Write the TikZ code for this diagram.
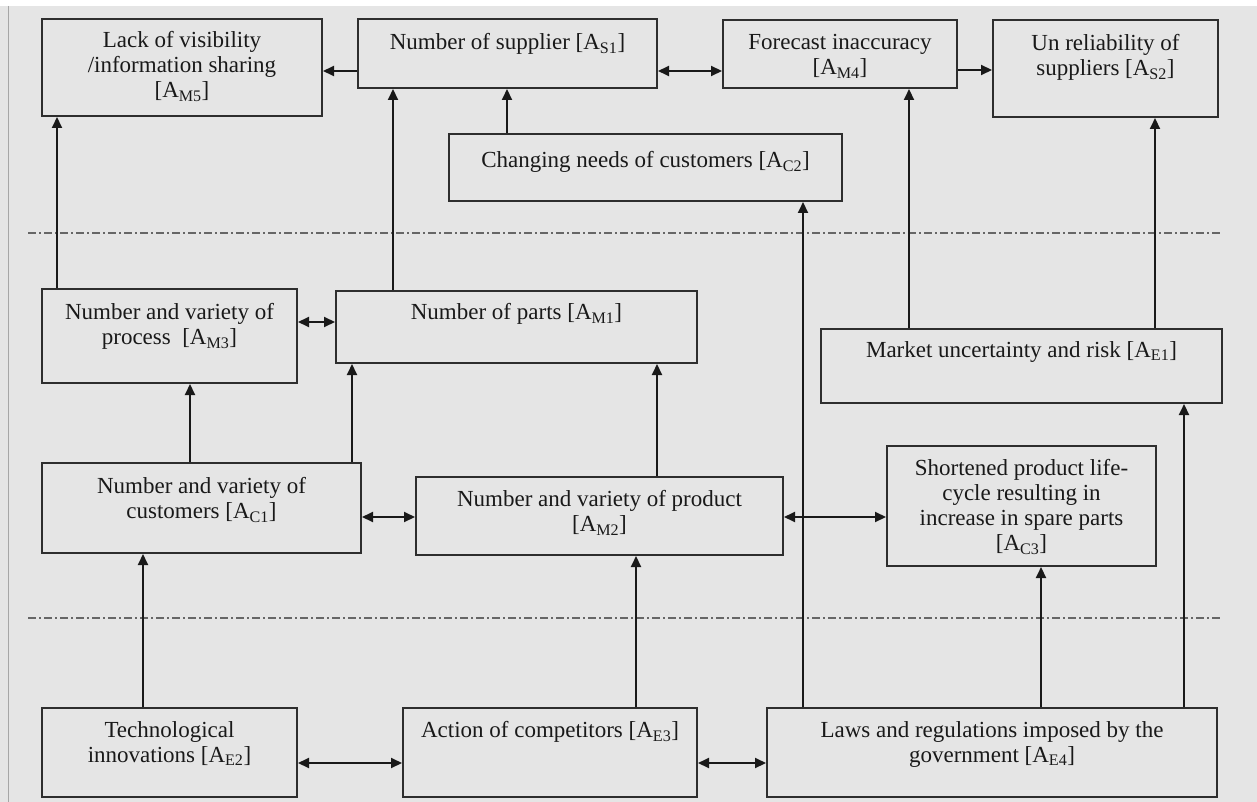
\documentclass[tikz,border=0pt]{standalone}
\usepackage{fontspec}
\setmainfont{Liberation Serif}
\usetikzlibrary{arrows.meta}
\definecolor{bg}{HTML}{E5E5E5}
\definecolor{edgec}{HTML}{2E2E2E}
\newcommand{\boxfont}{\fontsize{23}{25}\selectfont}
\newcommand{\ssub}[1]{\textsubscript{#1}}
\begin{document}
\begin{tikzpicture}[x=1pt,y=-1pt,
  box/.style={draw=edgec, line width=2pt, rectangle, inner sep=0pt},
  txt/.style={anchor=north, align=center, inner sep=0pt, font=\boxfont, text=black!90},
  arr/.style={draw=black!90, line width=2pt, -{Triangle[length=11pt,width=10pt]}},
  darr/.style={draw=black!90, line width=2pt, {Triangle[length=11pt,width=10pt]}-{Triangle[length=11pt,width=10pt]}},
  sep/.style={draw=black!60, line width=1.5pt, dash pattern=on 8pt off 3pt on 2pt off 3pt}]
\useasboundingbox (0,0) rectangle (1257,802);
\fill[bg] (0,0) rectangle (1257,802);
\fill[white] (0,0) rectangle (1257,6);
\draw[black!35, line width=1pt] (8.5,6) -- (8.5,802);

% separators
\draw[sep] (28,233) -- (1222,233);
\draw[sep] (28,618) -- (1222,618);

% boxes
\node[box, minimum width=280pt, minimum height=97pt] (am5) at (182,67.5) {};
\node[box, minimum width=299pt, minimum height=69pt] (as1) at (507.5,53.5) {};
\node[box, minimum width=234pt, minimum height=68pt] (am4) at (840,54) {};
\node[box, minimum width=225pt, minimum height=97pt] (as2) at (1105.5,68.5) {};
\node[box, minimum width=393pt, minimum height=67pt] (ac2) at (645.5,167.5) {};
\node[box, minimum width=255pt, minimum height=94pt] (am3) at (169.5,336) {};
\node[box, minimum width=361pt, minimum height=72pt] (am1) at (516.5,327) {};
\node[box, minimum width=401pt, minimum height=74pt] (ae1) at (1021.5,366) {};
\node[box, minimum width=319pt, minimum height=90pt] (ac1) at (201.5,508) {};
\node[box, minimum width=367pt, minimum height=78pt] (am2) at (599.5,516) {};
\node[box, minimum width=269pt, minimum height=120pt] (ac3) at (1021.5,506) {};
\node[box, minimum width=255pt, minimum height=89pt] (ae2) at (169.5,752.5) {};
\node[box, minimum width=294pt, minimum height=89pt] (ae3) at (550,752.5) {};
\node[box, minimum width=450pt, minimum height=89pt] (ae4) at (992,752.5) {};

% texts
\node[txt] (t-am5) at (182,31) {Lack of visibility\\/information sharing\\{}[A\ssub{M5}]};
\node[txt] (t-as1) at (507.5,33) {Number of supplier [A\ssub{S1}]};
\node[txt] (t-am4) at (840,34) {Forecast inaccuracy\\{}[A\ssub{M4}]};
\node[txt] (t-as2) at (1105.5,34) {Un reliability of\\suppliers [A\ssub{S2}]};
\node[txt] (t-ac2) at (645.5,151) {Changing needs of customers [A\ssub{C2}]};
\node[txt] (t-am3) at (169.5,303) {Number and variety of\\process~ [A\ssub{M3}]};
\node[txt] (t-am1) at (516.5,303) {Number of parts [A\ssub{M1}]};
\node[txt] (t-ae1) at (1021.5,341) {Market uncertainty and risk [A\ssub{E1}]};
\node[txt] (t-ac1) at (201.5,477) {Number and variety of\\customers [A\ssub{C1}]};
\node[txt] (t-am2) at (599.5,490) {Number and variety of product\\{}[A\ssub{M2}]};
\node[txt] (t-ac3) at (1021.5,459) {Shortened product life-\\cycle resulting in\\increase in spare parts\\{}[A\ssub{C3}]};
\node[txt] (t-ae2) at (169.5,721) {Technological\\innovations [A\ssub{E2}]};
\node[txt] (t-ae3) at (550,721) {Action of competitors [A\ssub{E3}]};
\node[txt] (t-ae4) at (992,721) {Laws and regulations imposed by the\\government [A\ssub{E4}]};

% helper coordinates
\coordinate (r70) at (0,70);
\coordinate (r71) at (0,71);
\coordinate (r322) at (0,322);
\coordinate (r517) at (0,517);
\coordinate (r763) at (0,763);
\coordinate (c57) at (57,0);
\coordinate (c143) at (143,0);
\coordinate (c190) at (190,0);
\coordinate (c352) at (352,0);
\coordinate (c393) at (393,0);
\coordinate (c507) at (507,0);
\coordinate (c636) at (636,0);
\coordinate (c657) at (657,0);
\coordinate (c803) at (803,0);
\coordinate (c909) at (909,0);
\coordinate (c1041) at (1041,0);
\coordinate (c1155) at (1155,0);
\coordinate (c1184) at (1184,0);

% connectors
\draw[arr] (as1.west |- r71) -- (am5.east |- r71);
\draw[darr] (as1.east |- r71) -- (am4.west |- r71);
\draw[arr] (am4.east |- r70) -- (as2.west |- r70);
\draw[arr] (ac2.north -| c507) -- (as1.south -| c507);
\draw[arr] (am3.north -| c57) -- (am5.south -| c57);
\draw[arr] (am1.north -| c393) -- (as1.south -| c393);
\draw[darr] (am3.east |- r322) -- (am1.west |- r322);
\draw[arr] (ae1.north -| c909) -- (am4.south -| c909);
\draw[arr] (ae1.north -| c1155) -- (as2.south -| c1155);
\draw[arr] (ac1.north -| c190) -- (am3.south -| c190);
\draw[arr] (ac1.north -| c352) -- (am1.south -| c352);
\draw[arr] (am2.north -| c657) -- (am1.south -| c657);
\draw[darr] (ac1.east |- r517) -- (am2.west |- r517);
\draw[darr] (am2.east |- r517) -- (ac3.west |- r517);
\draw[arr] (ae4.north -| c803) -- (ac2.south -| c803);
\draw[arr] (ae4.north -| c1184) -- (ae1.south -| c1184);
\draw[arr] (ae4.north -| c1041) -- (ac3.south -| c1041);
\draw[arr] (ae2.north -| c143) -- (ac1.south -| c143);
\draw[arr] (ae3.north -| c636) -- (am2.south -| c636);
\draw[darr] (ae2.east |- r763) -- (ae3.west |- r763);
\draw[darr] (ae3.east |- r763) -- (ae4.west |- r763);
\end{tikzpicture}
\end{document}
